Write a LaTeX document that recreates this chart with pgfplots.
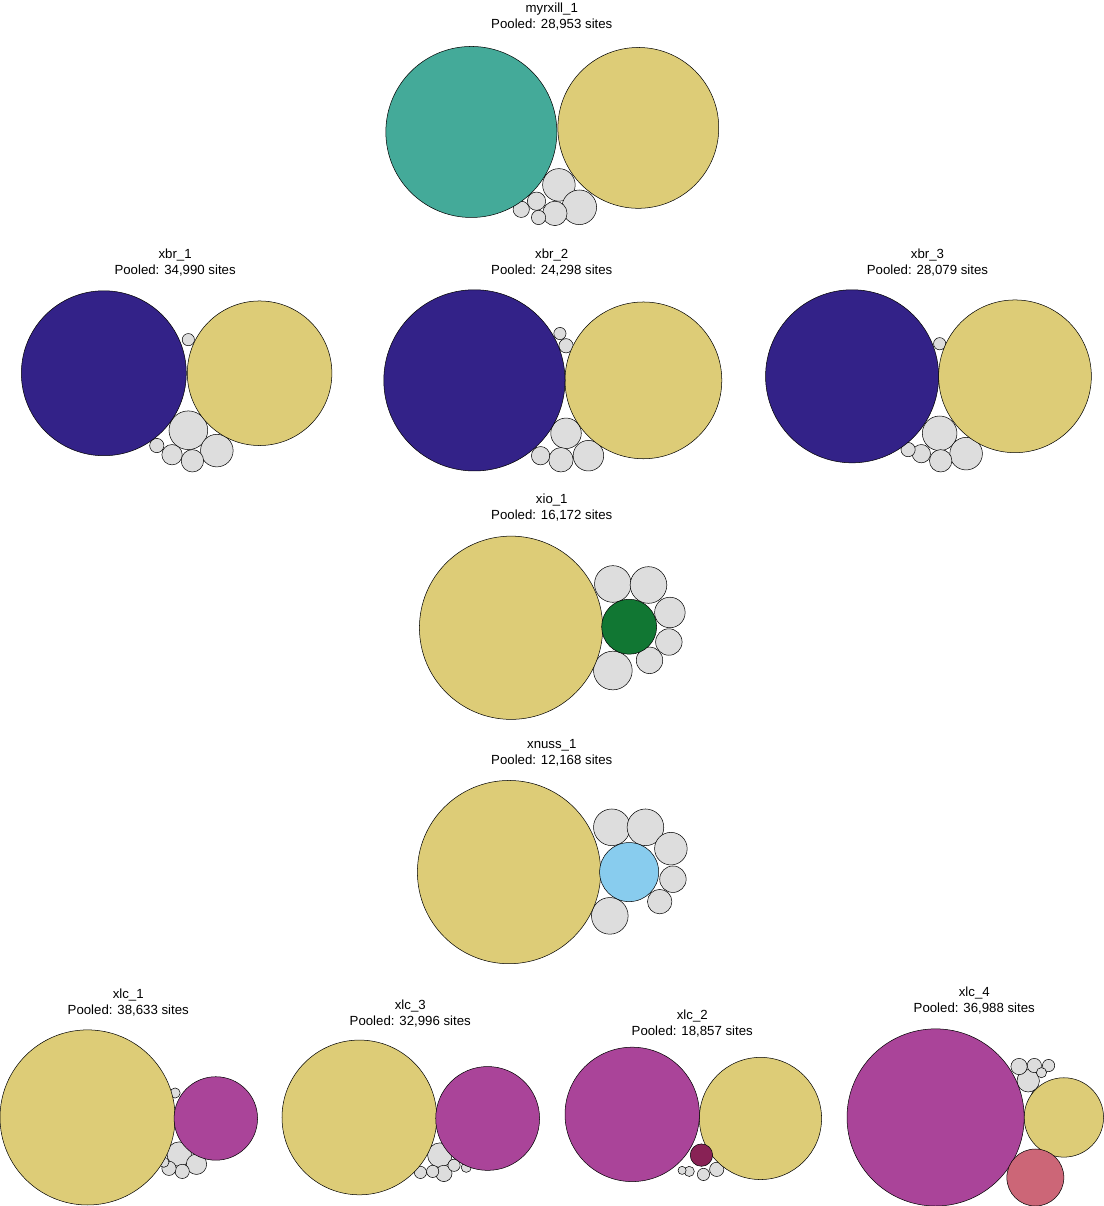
\documentclass[border=0pt]{standalone}
\usepackage{pgfplots}
\pgfplotsset{compat=1.18}
\usepackage{fontspec}
\setmainfont{Liberation Sans}
\definecolor{cteal}{HTML}{44AA99}
\definecolor{csand}{HTML}{DDCC77}
\definecolor{cindigo}{HTML}{332288}
\definecolor{cgreen}{HTML}{117733}
\definecolor{ccyan}{HTML}{88CCEE}
\definecolor{cpurple}{HTML}{AA4499}
\definecolor{cwine}{HTML}{882255}
\definecolor{crose}{HTML}{CC6677}
\definecolor{cgrey}{HTML}{DDDDDD}
\pgfplotsset{bub/.style={scatter, only marks, mark=*,
  scatter/use mapped color={draw=black, fill=#1},
  visualization depends on={\thisrow{r}\as\rr},
  scatter/@pre marker code/.append style={/tikz/mark size=\rr pt},
  line width=0.5pt}}
\begin{document}
\begin{tikzpicture}
\begin{axis}[scale only axis, width=1108pt, height=1206pt, xmin=0, xmax=1108, ymin=0, ymax=1206,
  y dir=reverse, hide axis, clip=false]
\addplot[bub=cgrey] table {
x y r
560 191 16
580 213 17
556 219 12
538 207 9
523 215 8
540 223 7
196 432 19
224 452 16
200 462 11
180 456 10
165 447 7
196 343 6
567 435 15
589 457 15
562 461 12
542 457 9
567 349 7
561 337 6
934 435 17
960 455 16
935 462 11
916 455 9
903 451 7
934 347 6
613 583 18
648 584 18
669 611 15
668 640 13
649 658 13
613 668 19
612 822 18
645 822 18
670 843 16
672 873 13
659 895 12
610 909 18
187 1143 12
204 1153 10
190 1160 7
177 1157 7
183 1083 5
172 1151 5
443 1144 12
447 1162 8
436 1160 6
424 1161 6
457 1154 6
469 1156 5
715 1158 7
702 1163 6
688 1160 5
681 1159 4
727 1153 5
1021 1071 11
1012 1057 8
1027 1056 7
1041 1056 6
1034 1063 5
1029 1085 5
};
\addplot[bub=cteal] table {
x y r
474 139 84
};
\addplot[bub=csand] table {
x y r
638 135 79
266 376 71
643 383 77
1008 379 75
513 626 90
511 866 90
97 1107 86
364 1107 76
758 1108 60
1056 1107 39
};
\addplot[bub=cindigo] table {
x y r
113 376 81
477 383 89
848 379 85
};
\addplot[bub=cgreen] table {
x y r
629 625 27
};
\addplot[bub=ccyan] table {
x y r
629 866 29
};
\addplot[bub=cpurple] table {
x y r
223 1108 41
490 1108 51
632 1104 66
930 1107 87
};
\addplot[bub=cwine] table {
x y r
700 1144 11
};
\addplot[bub=crose] table {
x y r
1028 1166 28
};
\tikzset{tt/.style={font=\fontsize{13}{15.5}\selectfont, align=center}}
\node[tt] at (axis cs:553,26) {myrxill\_1\\Pooled: 28,953 sites};
\node[tt] at (axis cs:183,267) {xbr\_1\\Pooled: 34,990 sites};
\node[tt] at (axis cs:553,267) {xbr\_2\\Pooled: 24,298 sites};
\node[tt] at (axis cs:922,267) {xbr\_3\\Pooled: 28,079 sites};
\node[tt] at (axis cs:553,508) {xio\_1\\Pooled: 16,172 sites};
\node[tt] at (axis cs:553,749) {xnuss\_1\\Pooled: 12,168 sites};
\node[tt] at (axis cs:137,994) {xlc\_1\\Pooled: 38,633 sites};
\node[tt] at (axis cs:414,1005) {xlc\_3\\Pooled: 32,996 sites};
\node[tt] at (axis cs:691,1015) {xlc\_2\\Pooled: 18,857 sites};
\node[tt] at (axis cs:968,992) {xlc\_4\\Pooled: 36,988 sites};
\tikzset{bl/.style={font=\fontsize{14}{21}\selectfont, align=center},
 bm/.style={font=\fontsize{12}{18}\selectfont, align=center},
 bs/.style={font=\fontsize{8}{11}\selectfont, align=center},
 bt/.style={font=\fontsize{5.5}{8}\selectfont, align=center}}
\node[bl] at (axis cs:474,139) {CarMyr\\49.93\%};
\node[bl] at (axis cs:638,139) {CarIll\\44.04\%};
\node[bl] at (axis cs:113,377) {CarCor\\52.6\%};
\node[bm] at (axis cs:266,377) {CarIll\\40.08\%};
\node[bl] at (axis cs:477,384) {CarCor\\54.26\%};
\node[bm] at (axis cs:643,384) {CarIll\\40.37\%};
\node[bl] at (axis cs:848,380) {CarCor\\52.9\%};
\node[bm] at (axis cs:1008,380) {CarIll\\41.08\%};
\node[bl] at (axis cs:513,626) {CarIll\\77.7\%};
\node[bt] at (axis cs:629,626) {CarOva\\6.94\%};
\node[bl] at (axis cs:511,868) {CarIll\\76.96\%};
\node[bt] at (axis cs:629,867) {CarLac\\8.28\%};
\node[bl] at (axis cs:97,1108) {CarIll\\78.6\%};
\node[bs] at (axis cs:223,1108) {CarAqu\\17.85\%};
\node[bl] at (axis cs:364,1108) {CarIll\\66.62\%};
\node[bm] at (axis cs:490,1108) {CarAqu\\29.99\%};
\node[bl] at (axis cs:632,1108) {CarAqu\\53.04\%};
\node[bm] at (axis cs:758,1108) {CarIll\\43.31\%};
\node[bl] at (axis cs:930,1108) {CarAqu\\75.36\%};
\node[bs] at (axis cs:1056,1108) {CarIll\\14.87\%};
\node[bt] at (axis cs:1028,1167) {CarPalm\\7.25\%};
\end{axis}
\end{tikzpicture}
\end{document}
